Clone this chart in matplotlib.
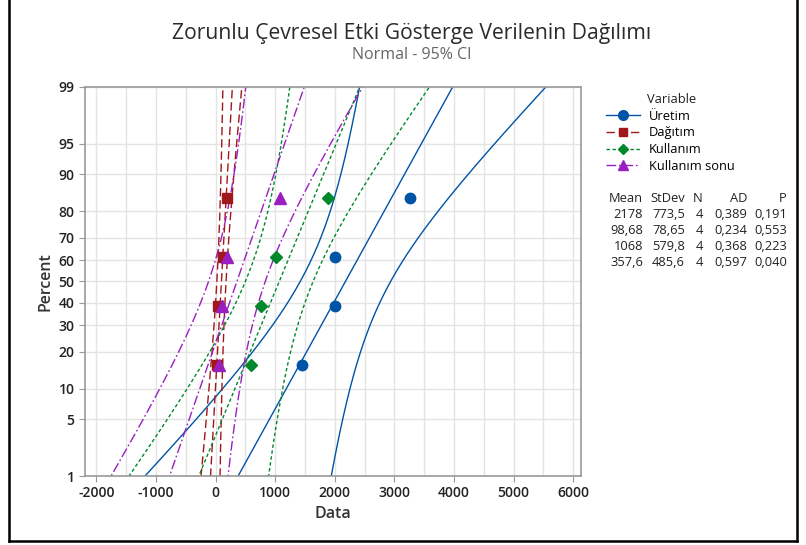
from statistics import NormalDist
import numpy as np
import matplotlib
matplotlib.use("Agg")
from matplotlib import pyplot as plt
from matplotlib.lines import Line2D

plt.rcParams['font.family'] = ['Open Sans', 'DejaVu Sans']

# data
series = ["Üretim", "Dağıtım", "Kullanım", "Kullanım sonu"]
uretim = [1442, 2000, 2003, 3267]
dagitim = [25, 48, 122, 200]
kullanim = [600, 760, 1020, 1892]
kullanim_sonu = [50, 100, 200, 1080]

# summary table as printed
means = [2178, 98.68, 1068, 357.6]
stdevs = [773.5, 78.65, 579.8, 485.6]
ns = [4, 4, 4, 4]
ads = [0.389, 0.234, 0.368, 0.597]
ps = [0.191, 0.553, 0.223, 0.040]

pct_ticks = [1, 5, 10, 20, 30, 40, 50, 60, 70, 80, 90, 95, 99]
x_ticks = [-2000, -1000, 0, 1000, 2000, 3000, 4000, 5000, 6000]

colors = ["#0054a6", "#a0171c", "#00882b", "#9a1fc0"]
markers = ["o", "s", "D", "^"]
msizes = [7.5, 6.5, 6, 8]
dashes = [None, (6, 2.8), (2.5, 1.8), (7, 2, 1.2, 2)]

nd = NormalDist()
zf = nd.inv_cdf

fig = plt.figure(figsize=(8.06, 5.45), dpi=100)
ax = fig.add_axes([0.1055, 0.1266, 0.6153, 0.7138])

zlo, zhi = zf(0.01), zf(0.99)
zz = np.linspace(zlo - 0.3, zhi + 0.3, 200)
zcrit = 1.96

handles = []
for i, vals in enumerate([uretim, dagitim, kullanim, kullanim_sonu]):
    v = np.sort(np.array(vals, dtype=float))
    n = len(v)
    pp = [(k + 1 - 0.3) / (n + 0.4) for k in range(n)]
    yz = [zf(p) for p in pp]
    m, s = means[i], stdevs[i]
    fit = m + s * zz
    hw = zcrit * s * np.sqrt(1.0 / n + 0.15 * zz ** 2)
    kw = dict(color=colors[i], lw=1.0)
    for line in (fit, fit - hw, fit + hw):
        l, = ax.plot(line, zz, **kw)
        if dashes[i] is not None:
            l.set_dashes(dashes[i])
    ax.plot(v, yz, linestyle="none", marker=markers[i], ms=msizes[i],
            color=colors[i], zorder=5)
    h = Line2D([], [], color=colors[i], lw=1.0, marker=markers[i], ms=msizes[i] - 0.5)
    if dashes[i] is not None:
        h.set_dashes(dashes[i])
    handles.append(h)

ax.set_xlim(-2190, 6130)
ax.set_ylim(zlo, zhi)
ax.set_yticks([zf(p / 100) for p in pct_ticks])
ax.set_yticklabels([str(p) for p in pct_ticks])
ax.set_xticks(x_ticks)
ax.set_xticklabels([str(x) for x in x_ticks])
ax.set_xticks(np.arange(-2000, 6001, 500), minor=True)
ax.grid(True, which="both", color="#e4e4e4", lw=1.0, zorder=0)
ax.set_axisbelow(True)
ax.tick_params(which="minor", length=0)
ax.tick_params(which="major", length=4, color="#999999", labelsize=10,
               labelcolor="#222222")
for lab in ax.get_xticklabels() + ax.get_yticklabels():
    lab.set_fontweight("semibold")
for sp in ax.spines.values():
    sp.set_color("#999999")
    sp.set_linewidth(1.2)

ax.set_xlabel("Data", fontsize=11.5, fontweight="semibold", color="#333333")
ax.set_ylabel("Percent", fontsize=11.5, fontweight="semibold", color="#333333")

fig.text(0.511, 0.938, "Zorunlu Çevresel Etki Gösterge Verilenin Dağılımı",
         ha="center", va="center", fontsize=15.2, color="#2b2b2b")
fig.text(0.511, 0.899, "Normal - 95% CI", ha="center", va="center",
         fontsize=11.5, color="#666666")

# legend (title placed separately so it lines up with the labels)
leg = fig.legend(handles, series, loc="upper left",
                 bbox_to_anchor=(0.752, 0.7985), frameon=False, fontsize=9.3,
                 handlelength=2.6, handletextpad=0.7, labelspacing=0.28,
                 borderpad=0.0, borderaxespad=0.0)
fig.text(647 / 806, 1 - 99 / 545, "Variable", ha="left", va="center",
         fontsize=9.3, color="#222222")

# stats table
cols_x = [643, 685, 703, 747, 787]
header = ["Mean", "StDev", "N", "AD", "P"]
y0 = 198
for cx, hname in zip(cols_x, header):
    fig.text(cx / 806, 1 - y0 / 545, hname, ha="right", va="center",
             fontsize=9.3, color="#222222")
for r in range(4):
    row = [f"{means[r]:g}".replace(".", ","), f"{stdevs[r]:g}".replace(".", ","),
           str(ns[r]), f"{ads[r]:.3f}".replace(".", ","), f"{ps[r]:.3f}".replace(".", ",")]
    yy = 1 - (214 + 16 * r) / 545
    for cx, t in zip(cols_x, row):
        fig.text(cx / 806, yy, t, ha="right", va="center", fontsize=9.3, color="#222222")

# outer frame
for xs, ys in [([9, 9], [0, 541]), ([9, 797], [541, 541]), ([797, 797], [0, 541])]:
    fig.add_artist(Line2D([x / 806 for x in xs], [1 - y / 545 for y in ys],
                          color="black", lw=1.8))

fig.savefig("out.png", dpi=100)
